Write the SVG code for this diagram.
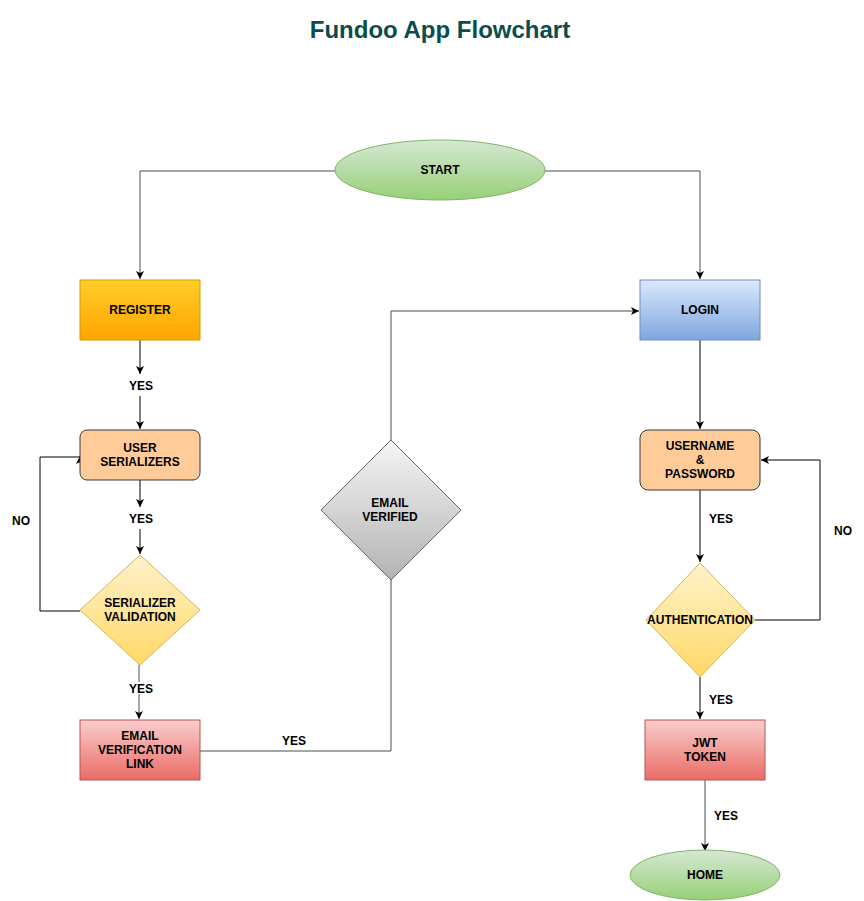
<svg xmlns="http://www.w3.org/2000/svg" width="864" height="901" viewBox="0 0 864 901">
<defs>
<linearGradient id="gGreen" x1="0" y1="0" x2="0" y2="1"><stop offset="0" stop-color="#d5e8d4"/><stop offset="1" stop-color="#97d077"/></linearGradient>
<linearGradient id="gOrange" x1="0" y1="0" x2="0" y2="1"><stop offset="0" stop-color="#ffcd28"/><stop offset="1" stop-color="#ffa500"/></linearGradient>
<linearGradient id="gYellow" x1="0" y1="0" x2="0" y2="1"><stop offset="0" stop-color="#fff2cc"/><stop offset="1" stop-color="#ffd966"/></linearGradient>
<linearGradient id="gRed" x1="0" y1="0" x2="0" y2="1"><stop offset="0" stop-color="#f8cecc"/><stop offset="1" stop-color="#ea6b66"/></linearGradient>
<linearGradient id="gBlue" x1="0" y1="0" x2="0" y2="1"><stop offset="0" stop-color="#dae8fc"/><stop offset="1" stop-color="#7ea6e0"/></linearGradient>
<linearGradient id="gGray" x1="0" y1="0" x2="0" y2="1"><stop offset="0" stop-color="#f5f5f5"/><stop offset="1" stop-color="#b3b3b3"/></linearGradient>
<marker id="arr" markerUnits="userSpaceOnUse" markerWidth="10" markerHeight="10" refX="8" refY="4" orient="auto" viewBox="0 0 10 8">
<path d="M0,0 L8,4 L0,8 L2,4 Z" fill="#000"/>
</marker>
</defs>
<style>
.lbl{font-family:"Liberation Sans",Arial,sans-serif;font-size:12px;font-weight:bold;fill:#000;text-anchor:middle}
.edge{fill:none;stroke:#000;stroke-width:1}
.edgeg{fill:none;stroke:#4d4d4d;stroke-width:1}
.title{font-family:"Liberation Sans",Arial,sans-serif;font-size:24px;font-weight:bold;fill:#0b4d4b;text-anchor:middle}
</style>
<rect width="864" height="901" fill="#fff"/>
<text class="title" x="440" y="38">Fundoo App Flowchart</text>

<g id="connectors">
<path class="edgeg" d="M335,171 H140 V279" marker-end="url(#arr)"/>
<path class="edgeg" d="M545,171 H700 V279" marker-end="url(#arr)"/>
<path class="edge" d="M140,340 V374" marker-end="url(#arr)"/>
<path class="edge" d="M140,396 V429" marker-end="url(#arr)"/>
<text class="lbl" x="141" y="390">YES</text>
<path class="edge" d="M140,480 V507" marker-end="url(#arr)"/>
<path class="edge" d="M140,529 V554" marker-end="url(#arr)"/>
<text class="lbl" x="141" y="523">YES</text>
<path class="edge" d="M80,611 H40 V457 H80"/>
<path class="edge" d="M80,463 V456" marker-end="url(#arr)"/>
<text class="lbl" x="21" y="525">NO</text>
<path class="edgeg" d="M139,665 V719" marker-end="url(#arr)"/>
<rect x="127" y="682" width="26" height="12" fill="#fff"/>
<text class="lbl" x="141" y="693">YES</text>
<path class="edgeg" d="M200,751 H391 V580"/>
<text class="lbl" x="294" y="745">YES</text>
<path class="edgeg" d="M391,440 V311 H639" marker-end="url(#arr)"/>
<path class="edge" d="M700,340 V429" marker-end="url(#arr)"/>
<path class="edge" d="M700,490 V562" marker-end="url(#arr)"/>
<text class="lbl" x="721" y="523">YES</text>
<path class="edge" d="M755,620 H820 V460 H761" marker-end="url(#arr)"/>
<text class="lbl" x="843" y="535">NO</text>
<path class="edge" d="M700,677 V719" marker-end="url(#arr)"/>
<text class="lbl" x="721" y="704">YES</text>
<path class="edgeg" d="M705,780 V851" marker-end="url(#arr)"/>
<text class="lbl" x="726" y="820">YES</text>
</g>

<g id="start">
<ellipse cx="440" cy="170" rx="105" ry="30" fill="url(#gGreen)" stroke="#82b366"/>
<text class="lbl" x="440" y="174">START</text>
</g>
<g id="register">
<rect x="80" y="280" width="120" height="60" fill="url(#gOrange)" stroke="#d79b00"/>
<text class="lbl" x="140" y="314">REGISTER</text>
</g>
<g id="user-serializers">
<rect x="80" y="430" width="120" height="50" rx="7" fill="#ffcc99" stroke="#36393d"/>
<text class="lbl" x="140" y="452">USER</text>
<text class="lbl" x="140" y="466">SERIALIZERS</text>
</g>
<g id="serializer-validation">
<path d="M140,555 L200,610 L140,665 L80,610 Z" fill="url(#gYellow)" stroke="#d6b656"/>
<text class="lbl" x="140" y="607">SERIALIZER</text>
<text class="lbl" x="140" y="621">VALIDATION</text>
</g>
<g id="email-verification-link">
<rect x="80" y="720" width="120" height="60" fill="url(#gRed)" stroke="#b85450"/>
<text class="lbl" x="140" y="740">EMAIL</text>
<text class="lbl" x="140" y="754">VERIFICATION</text>
<text class="lbl" x="140" y="768">LINK</text>
</g>
<g id="email-verified">
<path d="M391,440 L461,510 L391,580 L321,510 Z" fill="url(#gGray)" stroke="#666666"/>
<text class="lbl" x="390" y="507">EMAIL</text>
<text class="lbl" x="390" y="521">VERIFIED</text>
</g>
<g id="login">
<rect x="640" y="280" width="120" height="60" fill="url(#gBlue)" stroke="#6c8ebf"/>
<text class="lbl" x="700" y="314">LOGIN</text>
</g>
<g id="username-password">
<rect x="640" y="430" width="120" height="60" rx="8" fill="#ffcc99" stroke="#36393d"/>
<text class="lbl" x="700" y="450">USERNAME</text>
<text class="lbl" x="700" y="464">&amp;</text>
<text class="lbl" x="700" y="478">PASSWORD</text>
</g>
<g id="authentication">
<path d="M700,563 L755,620 L700,677 L646,620 Z" fill="url(#gYellow)" stroke="#d6b656"/>
<text class="lbl" x="700" y="624">AUTHENTICATION</text>
</g>
<g id="jwt-token">
<rect x="645" y="720" width="120" height="60" fill="url(#gRed)" stroke="#b85450"/>
<text class="lbl" x="705" y="747">JWT</text>
<text class="lbl" x="705" y="761">TOKEN</text>
</g>
<g id="home">
<ellipse cx="705" cy="875" rx="75" ry="25" fill="url(#gGreen)" stroke="#82b366"/>
<text class="lbl" x="705" y="879">HOME</text>
</g>
</svg>
